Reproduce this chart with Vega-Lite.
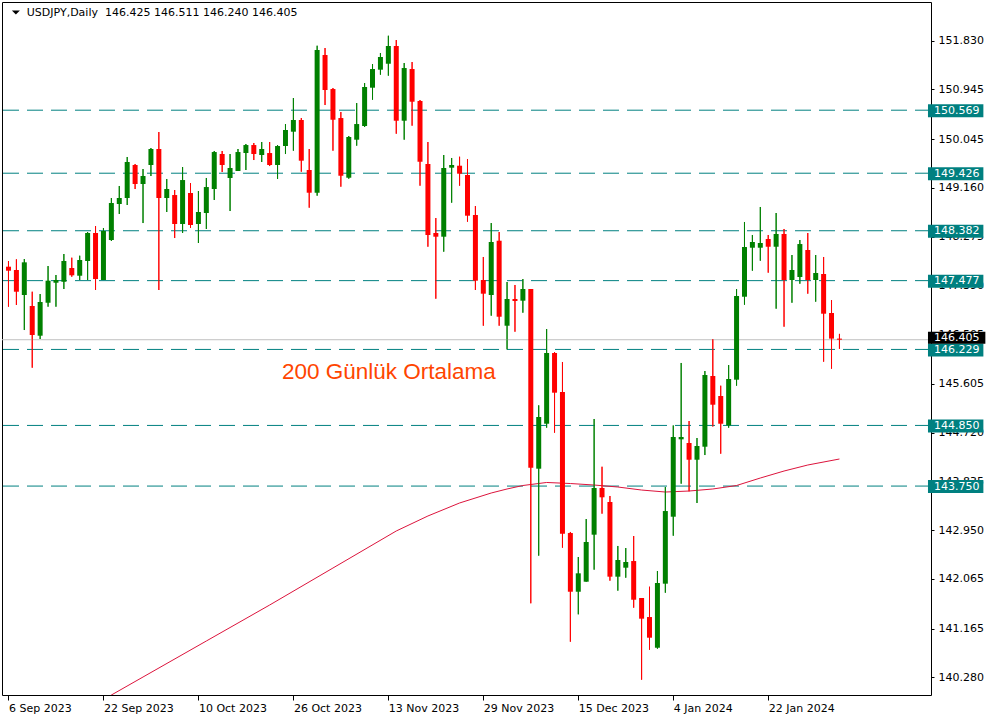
{
  "$schema": "https://vega.github.io/schema/vega-lite/v6.json",
  "width": 929,
  "height": 693,
  "autosize": "none",
  "padding": {"left": 2, "top": 2, "right": 64, "bottom": 25},
  "background": "#ffffff",
  "config": {
    "view": {"stroke": "#000000", "strokeWidth": 1},
    "font": "DejaVu Sans",
    "text": {"font": "DejaVu Sans"},
    "axis": {"domain": false, "grid": false, "tickColor": "#000000", "labelFont": "DejaVu Sans", "labelFontSize": 11, "labelColor": "#000000", "labelOverlap": false, "labelBound": false, "labelFlush": false}
  },
  "datasets": {
    "candles": [
      {"i":0,"o":147.730,"h":147.833,"l":147.004,"c":147.657},
      {"i":1,"o":147.670,"h":147.864,"l":147.035,"c":147.276},
      {"i":2,"o":147.216,"h":147.869,"l":146.581,"c":147.809},
      {"i":3,"o":147.017,"h":147.276,"l":145.897,"c":146.490},
      {"i":4,"o":146.478,"h":147.234,"l":146.418,"c":147.089},
      {"i":5,"o":147.076,"h":147.742,"l":147.004,"c":147.476},
      {"i":6,"o":147.439,"h":147.579,"l":147.004,"c":147.488},
      {"i":7,"o":147.457,"h":147.960,"l":147.325,"c":147.833},
      {"i":8,"o":147.706,"h":147.893,"l":147.548,"c":147.574},
      {"i":9,"o":147.566,"h":147.929,"l":147.488,"c":147.851},
      {"i":10,"o":147.833,"h":148.359,"l":147.488,"c":148.341},
      {"i":11,"o":148.341,"h":148.468,"l":147.307,"c":147.506},
      {"i":12,"o":147.488,"h":148.432,"l":147.488,"c":148.377},
      {"i":13,"o":148.214,"h":148.976,"l":148.196,"c":148.885},
      {"i":14,"o":148.867,"h":149.194,"l":148.686,"c":148.976},
      {"i":15,"o":148.976,"h":149.720,"l":148.849,"c":149.629},
      {"i":16,"o":149.575,"h":149.593,"l":149.139,"c":149.230},
      {"i":17,"o":149.230,"h":149.502,"l":148.522,"c":149.375},
      {"i":18,"o":149.575,"h":149.883,"l":149.375,"c":149.865},
      {"i":19,"o":149.865,"h":150.173,"l":147.307,"c":148.976},
      {"i":20,"o":148.976,"h":149.321,"l":148.722,"c":149.139},
      {"i":21,"o":149.030,"h":149.121,"l":148.250,"c":148.504},
      {"i":22,"o":148.504,"h":149.538,"l":148.341,"c":149.302},
      {"i":23,"o":149.067,"h":149.248,"l":148.432,"c":148.486},
      {"i":24,"o":148.504,"h":149.103,"l":148.160,"c":148.722},
      {"i":25,"o":148.704,"h":149.339,"l":148.414,"c":149.175},
      {"i":26,"o":149.139,"h":149.829,"l":148.940,"c":149.810},
      {"i":27,"o":149.774,"h":149.829,"l":149.448,"c":149.575},
      {"i":28,"o":149.339,"h":149.774,"l":148.740,"c":149.520},
      {"i":29,"o":149.466,"h":149.865,"l":149.466,"c":149.810},
      {"i":30,"o":149.792,"h":149.956,"l":149.484,"c":149.937},
      {"i":31,"o":149.937,"h":149.974,"l":149.665,"c":149.774},
      {"i":32,"o":149.756,"h":149.992,"l":149.629,"c":149.865},
      {"i":33,"o":149.792,"h":149.992,"l":149.556,"c":149.575},
      {"i":34,"o":149.575,"h":149.937,"l":149.321,"c":149.919},
      {"i":35,"o":149.919,"h":150.318,"l":149.774,"c":150.210},
      {"i":36,"o":150.179,"h":150.790,"l":149.834,"c":150.391},
      {"i":37,"o":150.391,"h":150.427,"l":149.453,"c":149.653},
      {"i":38,"o":149.484,"h":149.865,"l":148.800,"c":149.072},
      {"i":39,"o":149.072,"h":151.739,"l":149.018,"c":151.661},
      {"i":40,"o":151.570,"h":151.697,"l":150.663,"c":150.935},
      {"i":41,"o":150.953,"h":150.972,"l":149.834,"c":150.396},
      {"i":42,"o":150.427,"h":150.536,"l":149.181,"c":149.380},
      {"i":43,"o":149.344,"h":150.101,"l":149.326,"c":150.083},
      {"i":44,"o":150.034,"h":150.699,"l":149.925,"c":150.318},
      {"i":45,"o":150.282,"h":151.062,"l":150.264,"c":150.990},
      {"i":46,"o":150.977,"h":151.407,"l":150.759,"c":151.316},
      {"i":47,"o":151.304,"h":151.607,"l":151.213,"c":151.534},
      {"i":48,"o":151.412,"h":151.920,"l":151.195,"c":151.734},
      {"i":49,"o":151.734,"h":151.842,"l":150.142,"c":150.378},
      {"i":50,"o":150.378,"h":151.425,"l":150.034,"c":151.334},
      {"i":51,"o":151.316,"h":151.443,"l":150.288,"c":150.723},
      {"i":52,"o":150.736,"h":150.754,"l":149.199,"c":149.634},
      {"i":53,"o":149.593,"h":149.992,"l":148.092,"c":148.305},
      {"i":54,"o":148.341,"h":148.613,"l":147.149,"c":148.274},
      {"i":55,"o":148.274,"h":149.756,"l":148.002,"c":149.520},
      {"i":56,"o":149.526,"h":149.702,"l":148.891,"c":149.575},
      {"i":57,"o":149.562,"h":149.725,"l":149.199,"c":149.417},
      {"i":58,"o":149.393,"h":149.683,"l":148.546,"c":148.655},
      {"i":59,"o":148.668,"h":148.831,"l":147.307,"c":147.476},
      {"i":60,"o":147.488,"h":147.906,"l":146.659,"c":147.240},
      {"i":61,"o":147.216,"h":148.522,"l":146.841,"c":148.178},
      {"i":62,"o":148.201,"h":148.359,"l":146.659,"c":146.822},
      {"i":63,"o":146.659,"h":147.452,"l":146.229,"c":147.144},
      {"i":64,"o":147.144,"h":147.398,"l":146.550,"c":147.107},
      {"i":65,"o":147.113,"h":147.506,"l":146.895,"c":147.325},
      {"i":66,"o":147.325,"h":147.325,"l":141.623,"c":144.083},
      {"i":67,"o":144.065,"h":145.215,"l":142.487,"c":145.003},
      {"i":68,"o":144.881,"h":146.599,"l":144.809,"c":146.164},
      {"i":69,"o":146.164,"h":146.182,"l":144.718,"c":145.444},
      {"i":70,"o":145.456,"h":146.001,"l":142.632,"c":142.886},
      {"i":71,"o":142.898,"h":142.917,"l":140.926,"c":141.833},
      {"i":72,"o":141.833,"h":142.463,"l":141.423,"c":142.167},
      {"i":73,"o":142.015,"h":143.152,"l":142.015,"c":142.735},
      {"i":74,"o":142.868,"h":144.967,"l":142.233,"c":143.715},
      {"i":75,"o":143.715,"h":144.101,"l":143.249,"c":143.546},
      {"i":76,"o":143.461,"h":143.570,"l":142.033,"c":142.106},
      {"i":77,"o":142.106,"h":142.663,"l":141.852,"c":142.409},
      {"i":78,"o":142.269,"h":142.626,"l":142.087,"c":142.372},
      {"i":79,"o":142.390,"h":142.844,"l":141.543,"c":141.688},
      {"i":80,"o":141.719,"h":141.719,"l":140.237,"c":141.344},
      {"i":81,"o":141.374,"h":141.924,"l":140.781,"c":140.999},
      {"i":82,"o":140.817,"h":142.209,"l":140.799,"c":141.991},
      {"i":83,"o":141.979,"h":143.733,"l":141.815,"c":143.297},
      {"i":84,"o":143.194,"h":144.850,"l":142.849,"c":144.640},
      {"i":85,"o":144.598,"h":145.983,"l":143.793,"c":144.640},
      {"i":86,"o":144.531,"h":144.930,"l":143.655,"c":144.228},
      {"i":87,"o":144.228,"h":144.622,"l":143.443,"c":144.477},
      {"i":88,"o":144.464,"h":145.837,"l":144.313,"c":145.765},
      {"i":89,"o":145.747,"h":146.418,"l":144.830,"c":145.226},
      {"i":90,"o":145.384,"h":145.571,"l":144.337,"c":144.881},
      {"i":91,"o":144.852,"h":145.946,"l":144.809,"c":145.692},
      {"i":92,"o":145.680,"h":147.325,"l":145.571,"c":147.198},
      {"i":93,"o":147.185,"h":148.541,"l":147.040,"c":148.087},
      {"i":94,"o":148.074,"h":148.305,"l":147.657,"c":148.178},
      {"i":95,"o":148.074,"h":148.813,"l":147.838,"c":148.160},
      {"i":96,"o":148.232,"h":148.305,"l":147.621,"c":148.092},
      {"i":97,"o":148.092,"h":148.704,"l":146.968,"c":148.323},
      {"i":98,"o":148.323,"h":148.414,"l":146.641,"c":147.488},
      {"i":99,"o":147.488,"h":147.942,"l":147.076,"c":147.670},
      {"i":100,"o":147.543,"h":148.214,"l":147.421,"c":148.141},
      {"i":101,"o":148.033,"h":148.341,"l":147.240,"c":147.488},
      {"i":102,"o":147.488,"h":147.942,"l":147.095,"c":147.615},
      {"i":103,"o":147.597,"h":147.906,"l":146.006,"c":146.877},
      {"i":104,"o":146.890,"h":147.125,"l":145.879,"c":146.425},
      {"i":105,"o":146.425,"h":146.511,"l":146.240,"c":146.405}
    ],
    "ma": [
      {"i":0,"v":138.835},
      {"i":13,"v":139.959},
      {"i":17,"v":140.286},
      {"i":25,"v":140.939},
      {"i":33,"v":141.592},
      {"i":41,"v":142.263},
      {"i":49,"v":142.935},
      {"i":53,"v":143.207},
      {"i":57,"v":143.443},
      {"i":61,"v":143.624},
      {"i":63,"v":143.697},
      {"i":65,"v":143.760},
      {"i":68,"v":143.815},
      {"i":71,"v":143.796},
      {"i":74,"v":143.769},
      {"i":77,"v":143.733},
      {"i":80,"v":143.678},
      {"i":83,"v":143.642},
      {"i":86,"v":143.660},
      {"i":89,"v":143.697},
      {"i":92,"v":143.760},
      {"i":95,"v":143.896},
      {"i":98,"v":144.023},
      {"i":101,"v":144.132},
      {"i":105,"v":144.241}
    ],
    "levels": [
      {"p":150.569},
      {"p":149.426},
      {"p":148.382},
      {"p":147.477},
      {"p":146.229},
      {"p":144.850},
      {"p":143.750}
    ],
    "last": [{"p":146.405}],
    "note": [{"t":"200 Günlük Ortalama"}],
    "head": [{"t":"USDJPY,Daily\u00a0 146.425 146.511 146.240 146.405"}]
  },
  "layer": [
    {
      "data": {"name": "candles"},
      "mark": {"type": "rule", "strokeWidth": 1},
      "encoding": {
        "x": {"field": "i", "type": "quantitative", "title": null,
          "scale": {"domain": [-0.1875, 115.9375], "nice": false, "zero": false},
          "axis": {"orient": "bottom", "values": [0, 12, 24, 36, 48, 60, 72, 84, 96],
            "labelExpr": "['6 Sep 2023','22 Sep 2023','10 Oct 2023','26 Oct 2023','13 Nov 2023','29 Nov 2023','15 Dec 2023','4 Jan 2024','22 Jan 2024'][round(datum.value/12)]",
            "title": null, "tickSize": 5, "labelAlign": "left", "labelPadding": 2}},
        "y": {"field": "l", "type": "quantitative", "title": null,
          "scale": {"domain": [139.9595, 152.532], "nice": false, "zero": false},
          "axis": {"orient": "right", "values": [140.28, 141.165, 142.065, 142.95, 143.835, 144.72, 145.605, 146.505, 147.39, 148.275, 149.16, 150.045, 150.945, 151.83],
            "format": ".3f", "title": null, "tickSize": 3, "labelPadding": 4}},
        "y2": {"field": "h"},
        "color": {"condition": {"test": "datum.c >= datum.o", "value": "#008000"}, "value": "#FF0000"}
      }
    },
    {
      "data": {"name": "levels"},
      "mark": {"type": "rule", "color": "#008080", "strokeWidth": 1, "strokeDash": [16, 8]},
      "encoding": {
        "y": {"field": "p", "type": "quantitative", "title": null}
      }
    },
    {
      "data": {"name": "last"},
      "mark": {"type": "rule", "color": "#C0C0C0", "strokeWidth": 1},
      "encoding": {"y": {"field": "p", "type": "quantitative", "title": null}}
    },
    {
      "data": {"name": "ma"},
      "mark": {"type": "line", "color": "#DC143C", "strokeWidth": 1, "clip": true},
      "encoding": {
        "x": {"field": "i", "type": "quantitative", "title": null},
        "y": {"field": "v", "type": "quantitative", "title": null}
      }
    },
    {
      "data": {"name": "candles"},
      "mark": {"type": "rule", "strokeWidth": 1},
      "encoding": {
        "x": {"field": "i", "type": "quantitative", "title": null},
        "y": {"field": "l", "type": "quantitative", "title": null},
        "y2": {"field": "h"},
        "color": {"condition": {"test": "datum.c >= datum.o", "value": "#008000"}, "value": "#FF0000"}
      }
    },
    {
      "data": {"name": "candles"},
      "mark": {"type": "bar", "width": 5},
      "encoding": {
        "x": {"field": "i", "type": "quantitative", "title": null},
        "y": {"field": "o", "type": "quantitative", "title": null},
        "y2": {"field": "c"},
        "color": {"condition": {"test": "datum.c >= datum.o", "value": "#008000"}, "value": "#FF0000"}
      }
    },
    {
      "data": {"name": "levels"},
      "mark": {"type": "rect", "color": "#008080", "yOffset": -6, "y2Offset": 7},
      "encoding": {
        "x": {"datum": 116.1875, "type": "quantitative"},
        "x2": {"datum": 123.1875},
        "y": {"field": "p", "type": "quantitative", "title": null},
        "y2": {"field": "p"}
      }
    },
    {
      "data": {"name": "levels"},
      "mark": {"type": "text", "color": "#ffffff", "align": "left", "baseline": "middle", "fontSize": 11, "font": "DejaVu Sans", "dy": 0.5},
      "encoding": {
        "x": {"datum": 116.9375, "type": "quantitative"},
        "y": {"field": "p", "type": "quantitative", "title": null},
        "text": {"field": "p", "type": "quantitative", "format": ".3f"}
      }
    },
    {
      "data": {"name": "last"},
      "mark": {"type": "rect", "color": "#000000", "yOffset": -8, "y2Offset": 4},
      "encoding": {
        "x": {"datum": 116.1875, "type": "quantitative"},
        "x2": {"datum": 123.4375},
        "y": {"field": "p", "type": "quantitative", "title": null},
        "y2": {"field": "p"}
      }
    },
    {
      "data": {"name": "last"},
      "mark": {"type": "text", "color": "#ffffff", "align": "left", "baseline": "middle", "fontSize": 11, "font": "DejaVu Sans", "dy": -2},
      "encoding": {
        "x": {"datum": 116.9375, "type": "quantitative"},
        "y": {"field": "p", "type": "quantitative", "title": null},
        "text": {"field": "p", "type": "quantitative", "format": ".3f"}
      }
    },
    {
      "data": {"name": "note"},
      "mark": {"type": "text", "color": "#FF4500", "align": "left", "baseline": "middle", "fontSize": 22.5, "font": "Liberation Sans"},
      "encoding": {
        "x": {"datum": 34.5625, "type": "quantitative"},
        "y": {"datum": 145.819, "type": "quantitative"},
        "text": {"field": "t"}
      }
    },
    {
      "data": {"name": "head"},
      "mark": {"type": "text", "color": "#000000", "align": "left", "baseline": "middle", "fontSize": 11, "font": "DejaVu Sans"},
      "encoding": {
        "x": {"datum": 2.3125, "type": "quantitative"},
        "y": {"datum": 152.338, "type": "quantitative"},
        "text": {"field": "t"}
      }
    },
    {
      "data": {"name": "head"},
      "mark": {"type": "point", "shape": "M-1,-0.5L1,-0.5L0,0.5Z", "size": 64, "filled": true, "color": "#000000", "opacity": 1, "strokeWidth": 0},
      "encoding": {
        "x": {"datum": 0.9375, "type": "quantitative"},
        "y": {"datum": 152.341, "type": "quantitative"}
      }
    }
  ]
}
